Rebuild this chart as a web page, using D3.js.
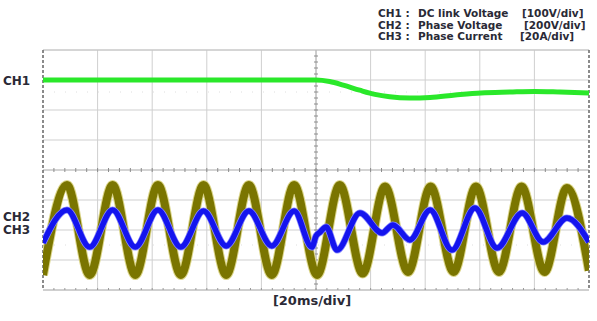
<!DOCTYPE html>
<html>
<head>
<meta charset="utf-8">
<script src="https://cdn.jsdelivr.net/npm/d3@7"></script>
<style>
body { margin: 0; background: #fff; }
text { font-family: "DejaVu Sans", sans-serif; font-weight: bold; fill: #2a2a36; }
</style>
</head>
<body>
<svg id="chart" width="597" height="321"></svg>
<script>
var width = 597,
    height = 321;

// time in ms (20 ms/div), level in divisions from screen centre
var ch1Time  = [0, 100, 105, 110, 116, 121.6, 127, 134.4, 141.8, 151, 160.4, 171, 180, 189.4, 200];
var ch1Level = [3.0, 3.0, 2.95, 2.83, 2.66, 2.52, 2.44, 2.4, 2.42, 2.5, 2.57, 2.6, 2.62, 2.6, 2.57];

var ch2Time  = [0, 8.8, 17.1, 25.5, 33.8, 42.1, 50.5, 58.8, 67.1, 75.4, 83.8, 92.0, 100.4, 108.7,
                117.1, 125.3, 133.7, 142.0, 150.4, 158.6, 167.0, 175.3, 183.7, 191.9, 200];
var ch2Level = [-3.5, -0.5, -3.5, -0.5, -3.5, -0.5, -3.5, -0.5, -3.5, -0.5, -3.5, -0.5, -3.5, -0.5,
                -3.45, -0.55, -3.4, -0.55, -3.4, -0.55, -3.4, -0.55, -3.4, -0.6, -3.35];

var ch3Time  = [0, 8.8, 17.1, 25.5, 33.8, 42.1, 50.5, 58.8, 67.1, 75.4, 83.8, 92.0, 98.5, 100.0,
                101.5, 103.7, 107.7, 116.1, 124.2, 128.2, 134.4, 141.8, 149.8, 158.2, 166.3, 175.5,
                183.2, 191.9, 200];
var ch3Level = [-2.43, -1.33, -2.57, -1.33, -2.57, -1.33, -2.57, -1.37, -2.53, -1.37, -2.53, -1.37, -2.57, -2.2,
                -2.07, -1.9, -2.67, -1.43, -2.1, -1.83, -2.33, -1.33, -2.67, -1.27, -2.6, -1.43,
                -2.4, -1.6, -2.4];

var legendChannels = ["CH1 :", "CH2 :", "CH3 :"];
var legendNames    = ["DC link Voltage", "Phase Voltage", "Phase Current"];
var legendScales   = ["[100V/div]", "[200V/div]", "[20A/div]"];
var timeLabel      = "[20ms/div]";

var svg = d3.select("#chart");

var x = d3.scaleLinear().domain([0, 200]).range([43, 589]);
var y = d3.scaleLinear().domain([-4, 4]).range([290, 50]);

var timeTicks = x.ticks(10),
    divTicks = y.ticks(8);

// grid
var grid = svg.append("g");
grid.selectAll(".vgrid")
    .data(timeTicks.filter(d => d > 0 && d < 200 && d !== 100))
    .enter().append("line")
        .attr("x1", d => x(d)).attr("x2", d => x(d))
        .attr("y1", y(4)).attr("y2", y(-4))
        .attr("stroke", "#cfcfcf");
grid.selectAll(".hgrid")
    .data(divTicks.filter(d => d > -4 && d !== 0))
    .enter().append("line")
        .attr("x1", x(0)).attr("x2", x(200))
        .attr("y1", d => y(d)).attr("y2", d => y(d))
        .attr("stroke", "#cfcfcf");

// faint channel reference dots
grid.selectAll(".ref")
    .data([2.6, -2.5])
    .enter().append("line")
        .attr("x1", x(0)).attr("x2", x(200))
        .attr("y1", d => y(d)).attr("y2", d => y(d))
        .attr("stroke", "#dedede")
        .attr("stroke-dasharray", "1,10");

// centre cross and bottom edge with minor ticks
grid.append("line")
    .attr("x1", x(100)).attr("x2", x(100)).attr("y1", y(4)).attr("y2", y(-4))
    .attr("stroke", "#9a9a9a");
grid.append("line")
    .attr("x1", x(0)).attr("x2", x(200)).attr("y1", y(0)).attr("y2", y(0))
    .attr("stroke", "#a8a8a8");
grid.append("line")
    .attr("x1", x(0)).attr("x2", x(200)).attr("y1", y(-4)).attr("y2", y(-4))
    .attr("stroke", "#a0a0a0");

var minorT = d3.range(4, 200, 4),
    minorV = d3.range(-3.8, 4, 0.2);
grid.selectAll(".tickc")
    .data(minorT)
    .enter().append("line")
        .attr("x1", d => x(d)).attr("x2", d => x(d))
        .attr("y1", y(0) - 2).attr("y2", y(0) + 2)
        .attr("stroke", "#8c8c8c");
grid.selectAll(".tickb")
    .data(minorT)
    .enter().append("line")
        .attr("x1", d => x(d)).attr("x2", d => x(d))
        .attr("y1", y(-4) - 2).attr("y2", y(-4))
        .attr("stroke", "#9a9a9a");
grid.selectAll(".tickv")
    .data(minorV)
    .enter().append("line")
        .attr("x1", x(100) - 2).attr("x2", x(100) + 2)
        .attr("y1", d => y(d)).attr("y2", d => y(d))
        .attr("stroke", "#8c8c8c");

// frame
grid.append("line")
    .attr("x1", x(0)).attr("x2", x(200)).attr("y1", y(4)).attr("y2", y(4))
    .attr("stroke", "#c4c4c4");
grid.selectAll(".side")
    .data([0, 200])
    .enter().append("line")
        .attr("x1", d => x(d)).attr("x2", d => x(d))
        .attr("y1", y(4)).attr("y2", y(-4))
        .attr("stroke", "#6f6f6f")
        .attr("stroke-width", 1.6)
        .attr("stroke-dasharray", "3,2");

// traces
svg.append("clipPath").attr("id", "clip")
  .append("rect")
    .attr("x", x(0)).attr("y", y(4))
    .attr("width", x(200) - x(0)).attr("height", y(-4) - y(4));

var traces = svg.append("g").attr("clip-path", "url(#clip)");

function pts(ts, vs) { return ts.map((t, i) => ({t: t, v: vs[i]})); }

var line = d3.line()
    .x(d => x(d.t))
    .y(d => y(d.v))
    .curve(d3.curveMonotoneX);

var ch2 = pts(ch2Time, ch2Level);
traces.append("path").datum(ch2)
    .attr("d", line).attr("fill", "none")
    .attr("stroke", "#dcd68a").attr("stroke-width", 10);
traces.append("path").datum(ch2)
    .attr("d", line).attr("fill", "none")
    .attr("stroke", "#7a7500").attr("stroke-width", 8);

var ch3 = pts(ch3Time, ch3Level);
traces.append("path").datum(ch3)
    .attr("d", line).attr("fill", "none")
    .attr("stroke", "#8a8aff").attr("stroke-width", 7);
traces.append("path").datum(ch3)
    .attr("d", line).attr("fill", "none")
    .attr("stroke", "#1414ee").attr("stroke-width", 5.5);

traces.append("path").datum(pts(ch1Time, ch1Level))
    .attr("d", line).attr("fill", "none")
    .attr("stroke", "#2ae82a").attr("stroke-width", 5);

// labels
svg.selectAll(".chlabel")
    .data([["CH1", 85], ["CH2", 221], ["CH3", 233.5]])
    .enter().append("text")
        .attr("x", 3).attr("y", d => d[1])
        .style("font-size", "12px")
        .text(d => d[0]);

svg.append("text")
    .attr("x", 312).attr("y", 305)
    .attr("text-anchor", "middle")
    .style("font-size", "13px")
    .text(timeLabel);

var legend = svg.append("g").style("font-size", "10.5px");
legendChannels.forEach(function(c, i) {
    var by = 17 + i * 11.5;
    legend.append("text").attr("x", 378).attr("y", by).text(c);
    legend.append("text").attr("x", 418).attr("y", by).text(legendNames[i]);
    legend.append("text").attr("x", [522, 524, 520][i]).attr("y", by).text(legendScales[i]);
});
</script>
</body>
</html>
